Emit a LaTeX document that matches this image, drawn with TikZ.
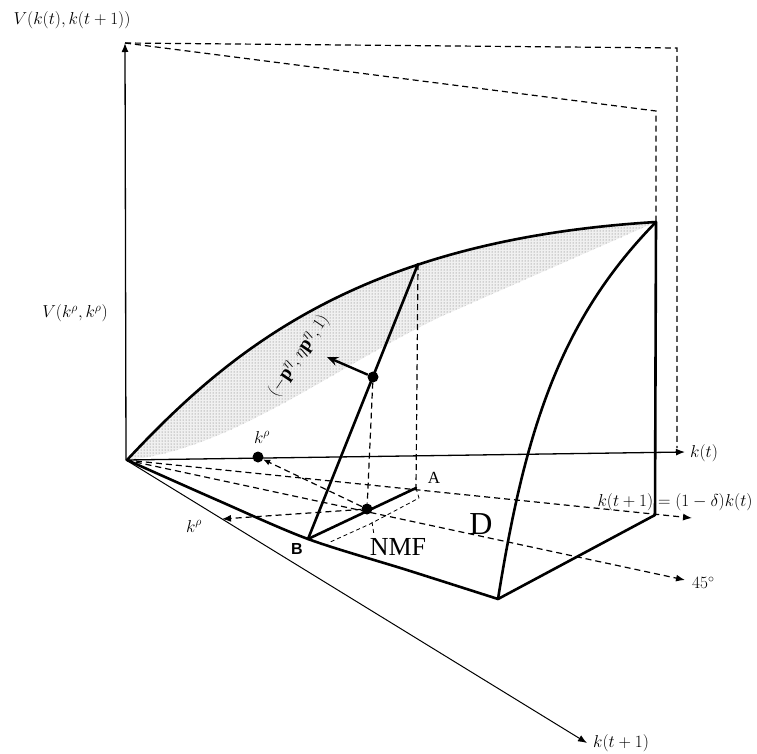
\documentclass[tikz,border=0pt]{standalone}
\usepackage{fontspec}
\setmainfont{Liberation Serif}
\newfontfamily\arialfont{Liberation Sans}
\usetikzlibrary{arrows.meta,patterns}
\begin{document}
\begin{tikzpicture}[x=1pt,y=-1pt,
 axis/.style={line width=1.3pt,-{Latex[length=9pt,width=7pt]}},
 edge/.style={line width=2.6pt,line join=round,line cap=round},
 dsh/.style={line width=1.2pt,dash pattern=on 6pt off 4pt},
 dsharr/.style={dsh,-{Latex[length=9pt,width=7pt]}},
 thindsh/.style={line width=0.8pt,dash pattern=on 4pt off 3pt},
 dotn/.style={circle,fill=black,inner sep=0pt,minimum size=11pt},
 mlab/.style={font=\fontsize{17}{20}\selectfont,inner sep=0pt},
 shade/.style={pattern=dots,pattern color=black!60},
]
\useasboundingbox (0,0) rectangle (757,753);
% coordinates
\coordinate (O) at (126,460);
\coordinate (Vtop) at (125,43);
\coordinate (Kt) at (685,452);
\coordinate (Kt1) at (587,743);
\coordinate (Del) at (692,518);
\coordinate (F45) at (685,580);
\coordinate (TR) at (656,222);
\coordinate (BR) at (655,515);
\coordinate (BC) at (498,599);
\coordinate (B) at (308,539);
\coordinate (Atop) at (418,264);
\coordinate (A) at (416,488);
\coordinate (Kl) at (222,519);
\coordinate (D1) at (677,48);
\coordinate (D1b) at (677,448);
\coordinate (D2) at (656,111);
\coordinate (Gr) at (327,357);
\coordinate (A2) at (419,498);
\coordinate (M2) at (370,524);
\coordinate (B2) at (328,543);
\coordinate (T1) at (372,522);
\coordinate (T2) at (374,535);
% shading
\fill[black!6] (127,460) .. controls (230,350) and (360,240) .. (TR) -- (440,317) .. controls (330,370) and (230,450) .. (127,460) -- cycle;
\fill[shade] (127,460) .. controls (230,350) and (360,240) .. (TR) -- (440,317) .. controls (330,370) and (230,450) .. (127,460) -- cycle;
% dots
\node[dotn] (P) at (373,377) {};
\node[dotn] (Q) at (367,509) {};
\node[dotn] (Kr) at (258,457) {};
% axes
\draw[axis] (O) -- (Vtop);
\draw[axis] (O) -- (Kt);
\draw[line width=1pt,-{Latex[length=9pt,width=7pt]}] (O) -- (Kt1);
% dashed
\draw[dsh] (Vtop) -- (D1) -- (D1b);
\draw[dsh] (Vtop) -- (D2) -- (TR);
\draw[dsharr] (O) -- (Del);
\draw[dsharr] (O) -- (F45);
\draw[dsh] (Atop) -- (A);
\draw[dsh] (P) -- (Q);
\draw[dsh,-{Latex[length=7pt,width=6pt]}] (Q) -- (Kr);
\draw[dsharr] (Q) -- (Kl);
\draw[thindsh] (A) -- (A2) -- (M2) -- (B2);
\draw[thindsh] (T1) -- (T2);
% surface edges
\draw[edge] (127,460) .. controls (230,350) and (360,240) .. (TR);
\draw[edge] plot[smooth] coordinates {(127,460) (217,500) (308,539) (407,570) (498,599)};
\draw[edge] (TR) -- (BR) -- (BC);
\draw[edge] (BC) .. controls (525,430) and (560,320) .. (TR);
\draw[edge] (B) -- (Atop);
\draw[edge] (B) -- (A);
\draw[line width=2.4pt,-{Stealth[length=11pt,width=9pt]}] (P) -- (Gr);
% labels
\node[mlab] (lv) at (72,20) {$V(k(t),k(t+1))$};
\node[mlab,font=\fontsize{18}{20}\selectfont] (lvr) at (75,313) {$V(k^{\rho},k^{\rho})$};
\node[mlab,anchor=west] (lkt) at (690,453) {$k(t)$};
\node[mlab,anchor=west] (lkt1) at (593,743) {$k(t+1)$};
\node[mlab] (ldel) at (675,502) {$k(t+1)=(1-\delta)k(t)$};
\node[mlab,anchor=west] (l45) at (692,583) {$45^{\circ}$};
\node[mlab] (lkr) at (262,437) {$k^{\rho}$};
\node[mlab] (lkl) at (194,526) {$k^{\rho}$};
\node[font=\fontsize{17}{17}\selectfont,inner sep=0pt] (lA) at (434,478) {A};
\node[font=\arialfont\bfseries\fontsize{16}{16}\selectfont,inner sep=0pt] (lB) at (297,549) {B};
\node[font=\fontsize{26}{26}\selectfont,inner sep=0pt] (lN) at (398,547) {NMF};
\node[font=\fontsize{32}{32}\selectfont,inner sep=0pt] (lD) at (481,524) {D};
\node[inner sep=0pt,font=\fontsize{19}{22}\selectfont,rotate=56] (lg) at (299,356) {$\bigl(-\mathbf{p}^{\eta},\eta\mathbf{p}^{\eta},1\bigr)$};
\end{tikzpicture}
\end{document}
